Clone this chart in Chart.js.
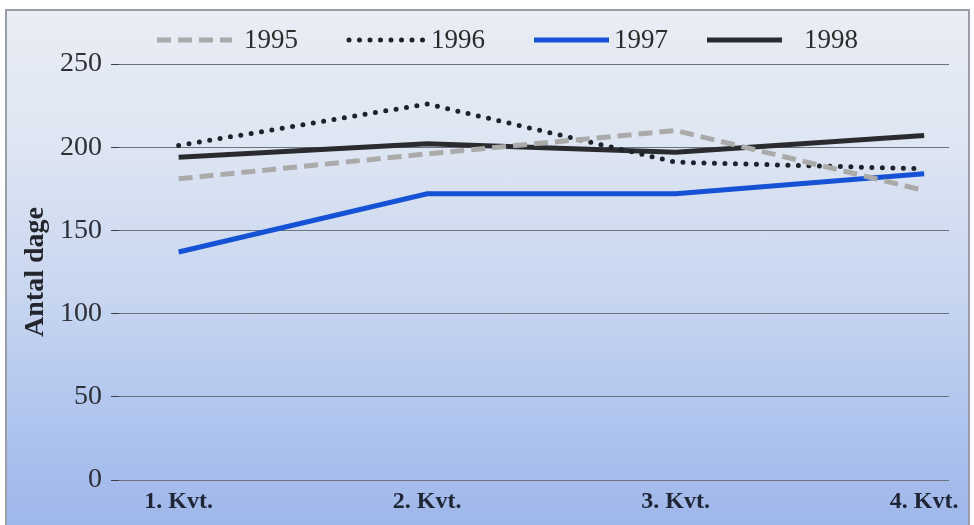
<!DOCTYPE html>
<html>
<head>
<meta charset="utf-8">
<script src="https://cdn.jsdelivr.net/npm/chart.js@4/dist/chart.umd.min.js"></script>
<style>
  html, body { margin: 0; padding: 0; background: #fff; }
  #frame {
    position: absolute;
    left: 5px; top: 9px;
    width: 961px; height: 514px;
    border: 2px solid #9a9ea6;
    background: linear-gradient(to bottom, #e9edf4 0%, #dfe6f3 25%, #c8d6f0 55%, #afc4ee 80%, #9fb7ea 100%);
  }
  #chart { display: block; }
</style>
</head>
<body>
<div id="frame"><canvas id="chart" width="961" height="514"></canvas></div>
<script>
const quarters = ['1. Kvt.', '2. Kvt.', '3. Kvt.', '4. Kvt.'];
const years = ['1995', '1996', '1997', '1998'];
const days1995 = [181, 196, 210, 174];
const days1996 = [201, 226, 191, 187];
const days1997 = [137, 172, 172, 184];
const days1998 = [194, 202, 197, 207];
const yTicks = [0, 50, 100, 150, 200, 250];

const serif = '"Liberation Serif", "DejaVu Serif", serif';

const toPoints = (values) => values.map((v, i) => ({ x: i, y: v }));

// legend row drawn across the top, one sample line + year per series
const lineLegend = {
  id: 'lineLegend',
  afterDraw(chart) {
    const ctx = chart.ctx;
    const slots = [150, 342, 527, 700];
    const textAt = [237, 424, 607, 797];
    const y = 29;
    chart.data.datasets.forEach((ds, i) => {
      ctx.save();
      ctx.strokeStyle = ds.borderColor;
      ctx.lineWidth = ds.borderWidth;
      ctx.lineCap = ds.borderCapStyle || 'butt';
      ctx.setLineDash(ds.borderDash || []);
      ctx.beginPath();
      ctx.moveTo(slots[i], y);
      ctx.lineTo(slots[i] + 75, y);
      ctx.stroke();
      ctx.setLineDash([]);
      ctx.fillStyle = '#2b2b2b';
      ctx.font = '27px ' + serif;
      ctx.textBaseline = 'middle';
      ctx.fillText(ds.label, textAt[i], y + 1);
      ctx.restore();
    });
  }
};

new Chart(document.getElementById('chart'), {
  type: 'line',
  data: {
    datasets: [
      {
        label: years[0],
        data: toPoints(days1995),
        borderColor: '#aaaaaa',
        borderWidth: 5,
        borderDash: [14, 7],
        order: 0
      },
      {
        label: years[1],
        data: toPoints(days1996),
        borderColor: '#1e222a',
        borderWidth: 5,
        borderDash: [0, 10.5],
        borderCapStyle: 'round',
        order: 1
      },
      {
        label: years[2],
        data: toPoints(days1997),
        borderColor: '#1552d6',
        borderWidth: 5,
        order: 2
      },
      {
        label: years[3],
        data: toPoints(days1998),
        borderColor: '#2a2b2e',
        borderWidth: 5,
        order: 3
      }
    ]
  },
  options: {
    responsive: false,
    animation: false,
    layout: { padding: { top: 53, right: 19, left: 0, bottom: 0 } },
    elements: {
      point: { radius: 0 },
      line: { tension: 0, fill: false }
    },
    plugins: {
      legend: { display: false },
      tooltip: { enabled: false }
    },
    scales: {
      x: {
        type: 'linear',
        min: -0.24,
        max: 3.1,
        grid: { display: false, drawTicks: false },
        border: { display: false },
        afterBuildTicks: (scale) => {
          scale.ticks = quarters.map((q, i) => ({ value: i }));
        },
        afterFit: (scale) => { scale.height = 45; },
        ticks: {
          callback: (value) => quarters[value],
          color: '#1e2535',
          padding: 7,
          maxRotation: 0,
          font: { family: serif, size: 24, weight: 'bold' }
        }
      },
      y: {
        min: 0,
        max: 250,
        afterBuildTicks: (scale) => {
          scale.ticks = yTicks.map((v) => ({ value: v }));
        },
        afterFit: (scale) => { scale.width = 112; },
        border: { display: false },
        grid: {
          color: '#6b7280',
          lineWidth: 1,
          tickLength: 8,
          tickColor: '#3a3f48'
        },
        ticks: {
          color: '#2e3038',
          padding: 9,
          font: { family: serif, size: 28 }
        },
        title: {
          display: true,
          text: 'Antal dage',
          color: '#23262d',
          padding: { top: 12, bottom: 0 },
          font: { family: serif, size: 28, weight: 'bold' }
        }
      }
    }
  },
  plugins: [lineLegend]
});
</script>
</body>
</html>
